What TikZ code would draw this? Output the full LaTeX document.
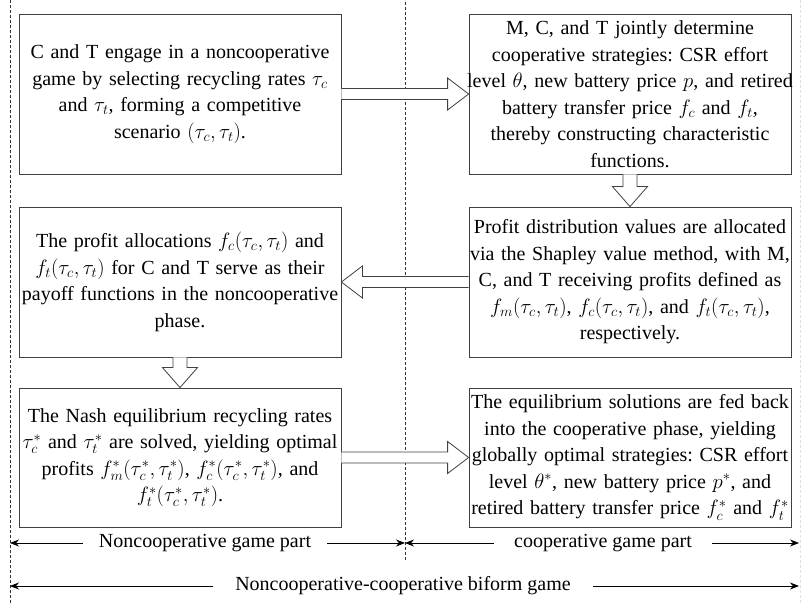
\documentclass[tikz,border=0pt]{standalone}
\usepackage{amsmath}
\usepackage{amssymb}
\usepackage{fontspec}
\setmainfont{Liberation Serif}
\usepackage{tikz}
\usetikzlibrary{arrows.meta}

\tikzset{
  stagebox/.style={draw=black!75, line width=0.8pt, minimum width=322pt, text width=332pt,
    inner xsep=-5pt, align=center, font=\fontsize{20}{26.5}\selectfont\frenchspacing},
  fatarrow/.style={draw=black!75, fill=white, line width=0.8pt},
  partlabel/.style={inner xsep=16pt, font=\fontsize{20}{24}\selectfont},
  divider/.style={black!80, line width=0.7pt, dash pattern=on 3pt off 2pt}
}

\begin{document}
\begin{tikzpicture}[x=1pt,y=1pt,>={Stealth[length=9pt,width=7pt]}]
\useasboundingbox (0,0) rectangle (801,603);
\draw[divider] (10,0) -- (10,603);
\draw[divider] (405,43) -- (405,603);
\draw[divider, black!12] (800,0) -- (800,603);

\node[stagebox, minimum height=160pt] (game) at (180,509)
  {C and T engage in a noncooperative\\ game by selecting recycling rates $\tau_c$\\
   and $\tau_t$, forming a competitive\\ scenario $(\tau_c,\tau_t)$.};
\node[stagebox, minimum height=160pt] (coop) at (630,509)
  {M, C, and T jointly determine\\ cooperative strategies: CSR effort\\
   level $\theta$, new battery price $p$, and retired\\ battery transfer price $f_c$ and $f_t$,\\
   thereby constructing characteristic\\ functions.};
\node[stagebox, minimum height=150pt] (payoff) at (180,321)
  {The profit allocations $f_c(\tau_c,\tau_t)$ and\\ $f_t(\tau_c,\tau_t)$ for C and T serve as their\\
   payoff functions in the noncooperative\\ phase.};
\node[stagebox, minimum height=150pt] (shapley) at (630,321)
  {Profit distribution values are allocated\\ via the Shapley value method, with M,\\
   C, and T receiving profits defined as\\
   $f_m(\tau_c,\tau_t)$, $f_c(\tau_c,\tau_t)$, and $f_t(\tau_c,\tau_t)$,\\ respectively.};
\node[stagebox, minimum height=139pt] (nash) at (180,145.5)
  {The Nash equilibrium recycling rates\\ $\tau_c^*$ and $\tau_t^*$ are solved, yielding optimal\\
   profits $f_m^*(\tau_c^*,\tau_t^*)$, $f_c^*(\tau_c^*,\tau_t^*)$, and\\ $f_t^*(\tau_c^*,\tau_t^*)$.};
\node[stagebox, minimum height=139pt] (feedback) at (630,145.5)
  {The equilibrium solutions are fed back\\ into the cooperative phase, yielding\\
   globally optimal strategies: CSR effort\\ level $\theta^*$, new battery price $p^*$, and\\
   retired battery transfer price $f_c^*$ and $f_t^*$};

\draw[fatarrow] ([yshift=5.5]game.east) -- ([xshift=-21,yshift=5.5]coop.west)
  -- ([xshift=-21,yshift=16]coop.west) -- (coop.west) -- ([xshift=-21,yshift=-16]coop.west)
  -- ([xshift=-21,yshift=-5.5]coop.west) -- ([yshift=-5.5]game.east);
\draw[fatarrow] ([xshift=-7]coop.south) -- ([xshift=-7,yshift=20]shapley.north)
  -- ([xshift=-17.5,yshift=20]shapley.north) -- (shapley.north) -- ([xshift=17.5,yshift=20]shapley.north)
  -- ([xshift=7,yshift=20]shapley.north) -- ([xshift=7]coop.south);
\draw[fatarrow] ([yshift=5.5]shapley.west) -- ([xshift=21,yshift=5.5]payoff.east)
  -- ([xshift=21,yshift=16]payoff.east) -- (payoff.east) -- ([xshift=21,yshift=-16]payoff.east)
  -- ([xshift=21,yshift=-5.5]payoff.east) -- ([yshift=-5.5]shapley.west);
\draw[fatarrow] ([xshift=-7]payoff.south) -- ([xshift=-7,yshift=20]nash.north)
  -- ([xshift=-17.5,yshift=20]nash.north) -- (nash.north) -- ([xshift=17.5,yshift=20]nash.north)
  -- ([xshift=7,yshift=20]nash.north) -- ([xshift=7]payoff.south);
\draw[fatarrow] ([yshift=5.5]nash.east) -- ([xshift=-21,yshift=5.5]feedback.west)
  -- ([xshift=-21,yshift=16]feedback.west) -- (feedback.west) -- ([xshift=-21,yshift=-16]feedback.west)
  -- ([xshift=-21,yshift=-5.5]feedback.west) -- ([yshift=-5.5]nash.east);

\coordinate (ncleft) at (10,60);
\coordinate (ncright) at (405,60);
\coordinate (cright) at (799,60);
\coordinate (bleft) at (10,17);
\coordinate (bright) at (799,17);
\node[partlabel] (ncpart) at (205,60) {Noncooperative game part};
\node[partlabel, inner xsep=20pt] (cpart) at (603,60) {cooperative game part};
\node[partlabel, inner xsep=22pt] (biform) at (403,17) {Noncooperative-cooperative biform game};
\draw[->, line width=0.8pt] (ncpart.west) -- (ncleft);
\draw[->, line width=0.8pt] (ncpart.east) -- (ncright);
\draw[->, line width=0.8pt] (cpart.west) -- (ncright);
\draw[->, line width=0.8pt] (cpart.east) -- (cright);
\draw[->, line width=0.8pt] (biform.west) -- (bleft);
\draw[->, line width=0.8pt] (biform.east) -- (bright);
\end{tikzpicture}
\end{document}
